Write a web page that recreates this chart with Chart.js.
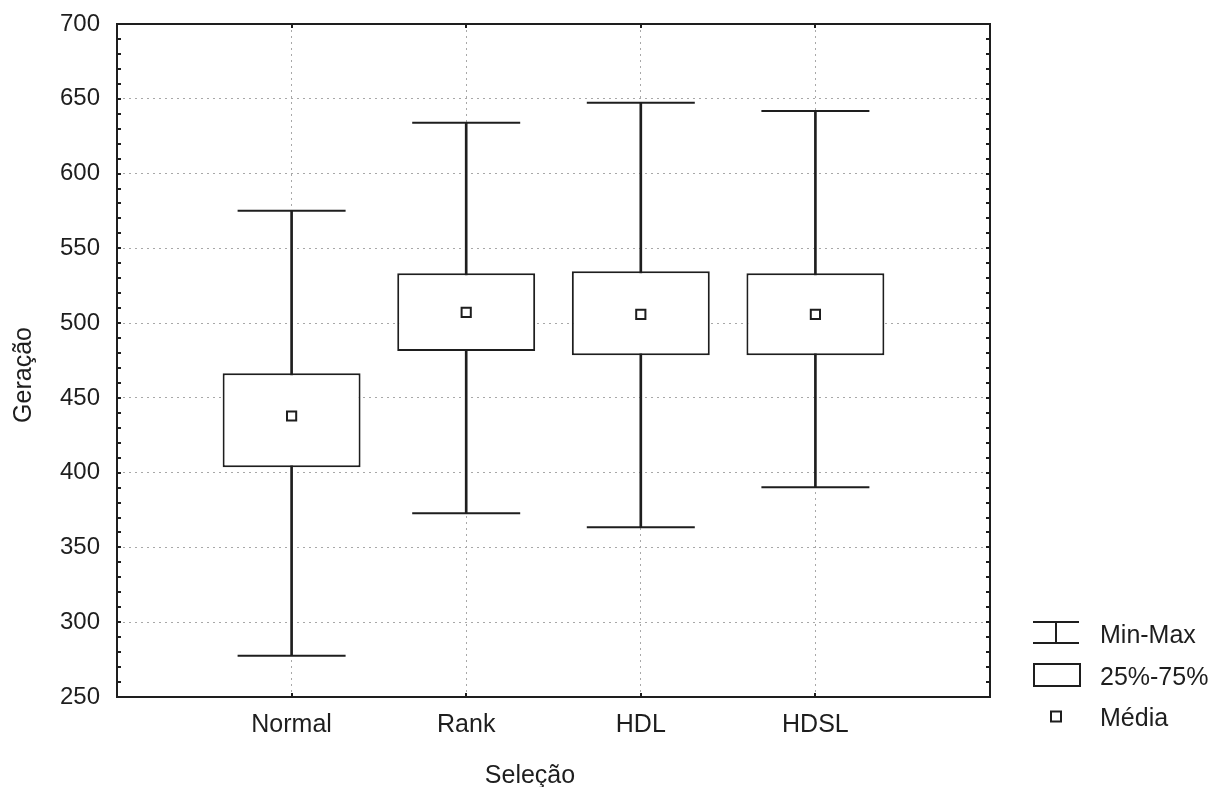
<!DOCTYPE html>
<html>
<head>
<meta charset="utf-8">
<title>Geração por Seleção</title>
<script src="https://cdn.jsdelivr.net/npm/chart.js@4.4.1/dist/chart.umd.min.js"></script>
<style>
    html, body { margin: 0; padding: 0; background: #fff; }
</style>
</head>
<body>
<canvas id="chart" width="1215" height="787"></canvas>
<script>
// valores (box plot por tipo de seleção)
const categories = ['Normal', 'Rank', 'HDL', 'HDSL'];
const minValues = [277.6, 372.8, 363.5, 390.2];
const q1Values = [403.6, 481.3, 478.5, 478.5];
const q3Values = [466.4, 533.3, 534.6, 533.3];
const maxValues = [575.2, 634.0, 647.4, 641.8];
const meanValues = [437.9, 507.2, 505.9, 505.9];

const yMin = 250;
const yMax = 700;
const yStep = 50;
const yMinorStep = 10;

const xTitle = 'Seleção';
const yTitle = 'Geração';
const legendLabels = ['Min-Max', '25%-75%', 'Média'];

const FONT = '"Liberation Sans", Arial, sans-serif';
const INK = '#1e1e1e';
const GRID = '#a8a8a8';

// categorias vazias nas pontas: o eixo vai de 0 a 5 com as caixas em 1..4
const labels = ['', ...categories, ''];
const pad = (arr) => [null, ...arr, null];

const framePlugin = {
    id: 'frame',
    afterDraw(chart) {
        const {ctx, chartArea: a, scales: {x, y}} = chart;
        ctx.save();
        ctx.strokeStyle = INK;
        ctx.lineWidth = 2;
        ctx.strokeRect(a.left, a.top, a.right - a.left, a.bottom - a.top);

        // marcas menores para dentro nos dois lados
        ctx.beginPath();
        for (let v = yMin; v <= yMax; v += yMinorStep) {
            const py = Math.round(y.getPixelForValue(v));
            ctx.moveTo(a.left, py);
            ctx.lineTo(a.left + 4, py);
            ctx.moveTo(a.right - 4, py);
            ctx.lineTo(a.right, py);
        }
        categories.forEach((c, i) => {
            const px = Math.round(x.getPixelForValue(i + 1));
            ctx.moveTo(px, a.bottom);
            ctx.lineTo(px, a.bottom - 4);
            ctx.moveTo(px, a.top);
            ctx.lineTo(px, a.top + 4);
        });
        ctx.stroke();

        // títulos dos eixos
        ctx.fillStyle = INK;
        ctx.font = '25px ' + FONT;
        ctx.textAlign = 'center';
        ctx.textBaseline = 'alphabetic';
        ctx.fillText(xTitle, 530, 783);
        ctx.save();
        ctx.translate(31, 375);
        ctx.rotate(-Math.PI / 2);
        ctx.fillText(yTitle, 0, 0);
        ctx.restore();

        // legenda
        const lx = a.right + 43;
        const tx = a.right + 110;
        const rows = [a.bottom - 64, a.bottom - 22, a.bottom + 19];
        ctx.beginPath();
        ctx.moveTo(lx, rows[0] - 11);
        ctx.lineTo(lx + 46, rows[0] - 11);
        ctx.moveTo(lx, rows[0] + 10);
        ctx.lineTo(lx + 46, rows[0] + 10);
        ctx.moveTo(lx + 23, rows[0] - 11);
        ctx.lineTo(lx + 23, rows[0] + 10);
        ctx.stroke();
        ctx.strokeRect(lx + 1, rows[1] - 11, 46, 22);
        ctx.strokeRect(lx + 18, rows[2] - 4.5, 10, 10);

        ctx.textAlign = 'left';
        legendLabels.forEach((t, i) => {
            ctx.fillText(t, tx, rows[i] + 10);
        });
        ctx.restore();
    }
};

new Chart(document.getElementById('chart'), {
    type: 'bar',
    data: {
        labels: labels,
        datasets: [{
            label: 'Whisker',
            data: pad(categories.map((c, i) => [minValues[i], maxValues[i]])),
            backgroundColor: INK,
            borderWidth: 0,
            barThickness: 2,
            grouped: false,
            order: 4
        }, {
            type: 'line',
            label: 'Max',
            data: pad(maxValues),
            showLine: false,
            pointStyle: 'line',
            pointRadius: 54,
            pointBorderColor: INK,
            pointBorderWidth: 2,
            order: 3
        }, {
            type: 'line',
            label: 'Min',
            data: pad(minValues),
            showLine: false,
            pointStyle: 'line',
            pointRadius: 54,
            pointBorderColor: INK,
            pointBorderWidth: 2,
            order: 3
        }, {
            label: '25%-75%',
            data: pad(categories.map((c, i) => [q1Values[i], q3Values[i]])),
            backgroundColor: '#ffffff',
            borderColor: INK,
            borderWidth: 2,
            borderSkipped: false,
            barPercentage: 0.79,
            categoryPercentage: 1,
            grouped: false,
            order: 2
        }, {
            type: 'line',
            label: 'Média',
            data: pad(meanValues),
            showLine: false,
            pointStyle: 'rect',
            pointRadius: 6.5,
            pointBackgroundColor: '#ffffff',
            pointBorderColor: INK,
            pointBorderWidth: 2,
            order: 1
        }]
    },
    options: {
        responsive: false,
        animation: false,
        events: [],
        layout: {
            autoPadding: false,
            padding: {top: 24, right: 225, left: 0, bottom: 0}
        },
        plugins: {
            legend: {display: false},
            tooltip: {enabled: false}
        },
        scales: {
            x: {
                offset: false,
                afterFit(scale) {
                    scale.height = 90;
                    scale.paddingLeft = 0;
                    scale.paddingRight = 0;
                },
                grid: {
                    offset: false,
                    drawTicks: false,
                    color: (c) => (c.index === 0 || c.index === labels.length - 1) ? 'transparent' : GRID,
                    lineWidth: 1
                },
                border: {display: false, dash: [2, 4]},
                ticks: {
                    color: INK,
                    font: {family: FONT, size: 25},
                    padding: 13,
                    autoSkip: false,
                    maxRotation: 0
                }
            },
            y: {
                min: yMin,
                max: yMax,
                afterFit(scale) {
                    scale.width = 117;
                    scale.paddingTop = 0;
                    scale.paddingBottom = 0;
                },
                grid: {
                    drawTicks: false,
                    color: GRID,
                    lineWidth: 1
                },
                border: {display: false, dash: [2, 4]},
                ticks: {
                    stepSize: yStep,
                    color: INK,
                    font: {family: FONT, size: 24},
                    padding: 17
                }
            }
        }
    },
    plugins: [framePlugin]
});
</script>
</body>
</html>
